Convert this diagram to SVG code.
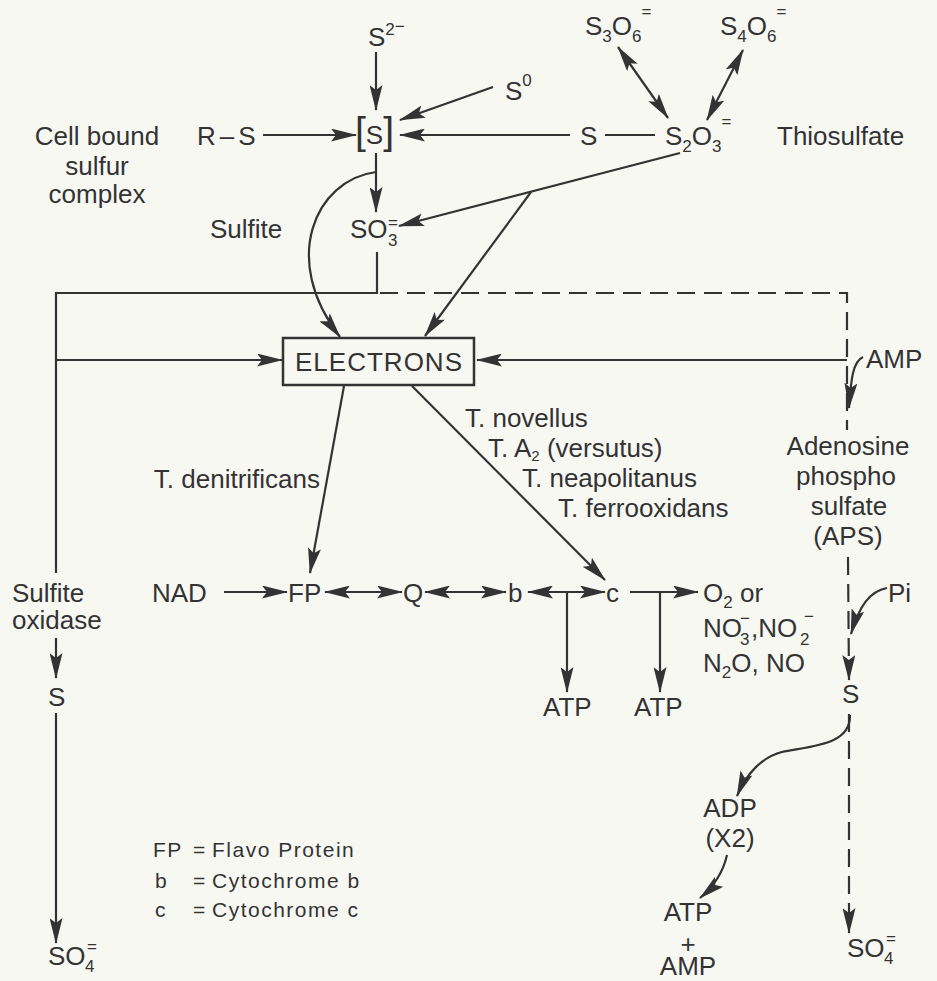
<svg xmlns="http://www.w3.org/2000/svg" width="937" height="981" viewBox="0 0 937 981">
<defs>
<style>
text{font-family:"Liberation Sans","Noto Sans",Arial,sans-serif;font-size:26px;fill:#333;}
.sm{font-size:17px;}
.lg{font-size:21px;letter-spacing:1.5px;}
.ln{stroke:#333;stroke-width:2.2;fill:none;}
.ds{stroke:#333;stroke-width:2.2;fill:none;stroke-dasharray:18 9;}
.ar{marker-end:url(#ah);}
.da{marker-start:url(#ah);marker-end:url(#ah);}
</style>
<marker id="ah" viewBox="0 0 26 13" markerWidth="26" markerHeight="13" refX="25" refY="6.5" orient="auto-start-reverse" markerUnits="userSpaceOnUse">
<path d="M0,0 L26,6.5 L0,13 L5,6.5 z" fill="#333"/>
</marker>
</defs>
<rect width="937" height="981" fill="#f8f8f3"/>

<g id="connectors">
<line class="ln ar" x1="376" y1="52" x2="376" y2="110"/>
<line class="ln ar" x1="493" y1="87" x2="400" y2="120"/>
<line class="ln ar" x1="263" y1="135" x2="356" y2="135"/>
<line class="ln ar" x1="570" y1="135" x2="400" y2="135"/>
<line class="ln" x1="605" y1="135" x2="655" y2="135"/>
<line class="ln da" x1="618" y1="47" x2="668" y2="118"/>
<line class="ln da" x1="743" y1="50" x2="707" y2="120"/>
<line class="ln ar" x1="376" y1="153" x2="376" y2="212"/>
<line class="ln ar" x1="680" y1="153" x2="399" y2="226"/>
<line class="ln ar" x1="531" y1="192" x2="425" y2="336"/>
<path class="ln ar" d="M376,172 C315,180 280,260 340,337"/>
<polyline class="ln" points="377,252 377,293 56,293 56,573"/>
<path class="ds" d="M380,293 H847 V430"/>
<line class="ln ar" x1="56" y1="360" x2="282" y2="360"/>
<line class="ln ar" x1="847" y1="360" x2="477" y2="360"/>
<line class="ln ar" x1="56" y1="638" x2="56" y2="678"/>
<line class="ln ar" x1="56" y1="713" x2="56" y2="943"/>
<line class="ln ar" x1="344" y1="386" x2="310" y2="573"/>
<line class="ln ar" x1="412" y1="386" x2="605" y2="580"/>
<line class="ln ar" x1="224" y1="592" x2="287" y2="592"/>
<line class="ln da" x1="325" y1="592" x2="402" y2="592"/>
<line class="ln da" x1="425" y1="592" x2="506" y2="592"/>
<line class="ln da" x1="528" y1="592" x2="605" y2="592"/>
<line class="ln ar" x1="567" y1="592" x2="567" y2="692"/>
<line class="ln ar" x1="630" y1="592" x2="698" y2="592"/>
<line class="ln ar" x1="660" y1="592" x2="660" y2="692"/>
<path class="ln ar" d="M863,357 C852,362 851,382 849,408"/>
<line class="ds ar" x1="848" y1="557" x2="849" y2="680"/>
<path class="ln ar" d="M887,588 C870,591 859,606 851,634"/>
<line class="ds ar" x1="849" y1="714" x2="849" y2="933"/>
<path class="ln ar" d="M850,715 C851,745 812,746 782,752 C762,757 746,774 737,796"/>
<path class="ln ar" d="M727,855 C723,873 713,887 700,898"/>
</g>

<g id="n-s2minus"><text x="368" y="46">S<tspan class="sm" dy="-11">2</tspan><tspan class="sm" dy="-3">−</tspan></text></g>
<g id="n-s0"><text x="505" y="100">S<tspan class="sm" dy="-14">0</tspan></text></g>
<g id="n-s3o6"><text x="585" y="35">S<tspan class="sm" dy="7">3</tspan><tspan dy="-7">O</tspan><tspan class="sm" dy="7">6</tspan><tspan class="sm" dy="-25">=</tspan></text></g>
<g id="n-s4o6"><text x="720" y="35">S<tspan class="sm" dy="7">4</tspan><tspan dy="-7">O</tspan><tspan class="sm" dy="7">6</tspan><tspan class="sm" dy="-25">=</tspan></text></g>
<g id="n-cellbound"><text x="97" y="145" text-anchor="middle">Cell bound</text><text x="97" y="175" text-anchor="middle">sulfur</text><text x="97" y="203" text-anchor="middle">complex</text></g>
<g id="n-rs"><text x="197" y="145" letter-spacing="4">R–S</text></g>
<g id="n-sbox"><text x="355" y="144"><tspan font-size="39">[</tspan><tspan>S</tspan><tspan font-size="39">]</tspan></text></g>
<g id="n-s"><text x="580" y="145">S</text></g>
<g id="n-s2o3"><text x="665" y="145">S<tspan class="sm" dy="7">2</tspan><tspan dy="-7">O</tspan><tspan class="sm" dy="7">3</tspan><tspan class="sm" dy="-25">=</tspan></text></g>
<g id="n-thiosulfate"><text x="777" y="145">Thiosulfate</text></g>
<g id="n-sulfite"><text x="210" y="238">Sulfite</text></g>
<g id="n-so3"><text x="350" y="238">SO</text><text class="sm" x="388" y="246">3</text><text class="sm" x="388" y="228">=</text></g>
<g id="n-electrons"><rect x="283" y="338" width="191" height="47" fill="none" stroke="#333" stroke-width="2.5"/><text x="295" y="371" textLength="167" lengthAdjust="spacing">ELECTRONS</text></g>
<g id="n-amp"><text x="866" y="368">AMP</text></g>
<g id="n-tden"><text x="320" y="488" text-anchor="end">T. denitrificans</text></g>
<g id="n-species">
<text x="465" y="427">T. novellus</text>
<text x="488" y="457">T. A<tspan font-size="15" dy="4">2</tspan><tspan dy="-4"> (versutus)</tspan></text>
<text x="522" y="487">T. neapolitanus</text>
<text x="558" y="517">T. ferrooxidans</text>
</g>
<g id="n-aps"><text x="848" y="455" text-anchor="middle">Adenosine</text><text x="846" y="485" text-anchor="middle">phospho</text><text x="849" y="515" text-anchor="middle">sulfate</text><text x="848" y="545" text-anchor="middle">(APS)</text></g>
<g id="n-sulfiteoxidase"><text x="12" y="602">Sulfite</text><text x="12" y="629">oxidase</text></g>
<g id="n-nad"><text x="152" y="602">NAD</text></g>
<g id="n-fp"><text x="288" y="602">FP</text></g>
<g id="n-q"><text x="403" y="602">Q</text></g>
<g id="n-b"><text x="508" y="602">b</text></g>
<g id="n-c"><text x="606" y="602">c</text></g>
<g id="n-acceptors">
<text x="703" y="602">O<tspan class="sm" dy="6">2</tspan><tspan dy="-6"> or</tspan></text>
<text x="703" y="637">NO</text><text class="sm" x="740" y="645">3</text><text class="sm" x="740" y="624">−</text><text x="751" y="637">,NO</text><text class="sm" x="800" y="645">2</text><text class="sm" x="804" y="622">−</text>
<text x="703" y="672">N<tspan class="sm" dy="6">2</tspan><tspan dy="-6">O, NO</tspan></text>
</g>
<g id="n-atp1"><text x="543" y="716">ATP</text></g>
<g id="n-atp2"><text x="634" y="716">ATP</text></g>
<g id="n-pi"><text x="888" y="602">Pi</text></g>
<g id="n-sright"><text x="842" y="703">S</text></g>
<g id="n-sleft"><text x="48" y="706">S</text></g>
<g id="n-so4left"><text x="48" y="965">SO</text><text class="sm" x="85" y="972">4</text><text class="sm" x="87" y="952">=</text></g>
<g id="n-so4right"><text x="847" y="957">SO</text><text class="sm" x="884" y="964">4</text><text class="sm" x="886" y="944">=</text></g>
<g id="n-adp"><text x="730" y="817" text-anchor="middle">ADP</text><text x="730" y="847" text-anchor="middle">(X2)</text></g>
<g id="n-atpamp"><text x="688" y="921" text-anchor="middle">ATP</text><text x="688" y="953" text-anchor="middle" font-size="24">+</text><text x="688" y="975" text-anchor="middle">AMP</text></g>
<g id="n-legend">
<text class="lg" x="153" y="857">FP</text><text class="lg" x="193" y="857">=</text><text class="lg" x="212" y="857">Flavo Protein</text>
<text class="lg" x="155" y="888">b</text><text class="lg" x="193" y="888">=</text><text class="lg" x="212" y="888">Cytochrome b</text>
<text class="lg" x="155" y="917">c</text><text class="lg" x="193" y="917">=</text><text class="lg" x="212" y="917">Cytochrome c</text>
</g>
</svg>
